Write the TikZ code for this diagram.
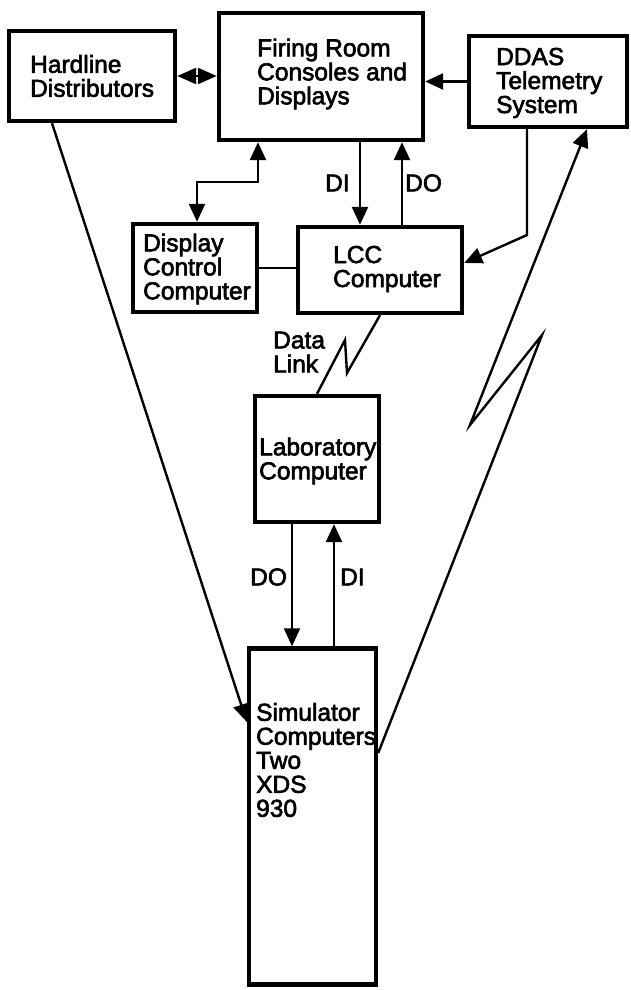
\documentclass[tikz,border=0pt]{standalone}
\usepackage{fontspec}
\setmainfont{Liberation Sans}
\newfontfamily\labelfont{Liberation Sans}[FakeBold=2.5]
\usetikzlibrary{arrows.meta,calc}
\begin{document}
\begin{tikzpicture}[x=1pt,y=-1pt,
  box/.style={draw, line width=4.4pt, inner sep=0pt, rectangle},
  lbl/.style={anchor=west, align=left, inner sep=0pt, font=\labelfont\fontsize{24.5}{24}\selectfont},
  conn/.style={line width=2.4pt},
  tip/.style={-{Triangle[length=18pt,width=16pt]}},
  tips/.style={{Triangle[length=18pt,width=16pt]}-{Triangle[length=18pt,width=16pt]}},
  dtips/.style={{Triangle[length=19pt,width=16pt]}-{Triangle[length=19pt,width=16pt]}}
]
\useasboundingbox (0,0) rectangle (631,990);
% boxes
\node[box, minimum width=166pt, minimum height=90pt] (hard) at (92,76) {};
\node[box, minimum width=204pt, minimum height=127pt] (fire) at (321,76.5) {};
\node[box, minimum width=158pt, minimum height=91pt] (ddas) at (548,81.5) {};
\node[box, minimum width=124pt, minimum height=88pt] (dcc) at (195,268) {};
\node[box, minimum width=164pt, minimum height=86pt] (lcc) at (380,270) {};
\node[box, minimum width=124pt, minimum height=126pt] (lab) at (317,459) {};
\node[box, minimum width=127pt, minimum height=336pt] (sim) at (312.5,816.5) {};
% texts
\node[lbl] (hardT) at (30,76) {Hardline\\Distributors};
\node[lbl] (fireT) at (257,74) {Firing Room\\Consoles and\\Displays};
\node[lbl] (ddasT) at (496,83) {DDAS\\Telemetry\\System};
\node[lbl] (dccT) at (143,269) {Display\\Control\\Computer};
\node[lbl] (lccT) at (333,269) {LCC\\Computer};
\node[lbl] (dlT) at (273,352) {Data\\Link};
\node[lbl] (labT) at (259,461) {Laboratory\\Computer};
\node[lbl] (simT) at (256,760) {Simulator\\Computers\\Two\\XDS\\930};
\node[lbl] (di1) at (325,183) {DI};
\node[lbl] (do1) at (405,183) {DO};
\node[lbl] (do2) at (250,577) {DO};
\node[lbl] (di2) at (340,577) {DI};
% helper coordinates
\coordinate (fd) at (258,182);
\coordinate (fd2) at (197,182);
\coordinate (dix) at (360,0);
\coordinate (dox) at (402,0);
\coordinate (dd) at (527,235);
\coordinate (ly) at (0,263);
\coordinate (dl1) at (347,373);
\coordinate (dl2) at (345,340);
\coordinate (ldo) at (292,0);
\coordinate (ldi) at (334,0);
\coordinate (hx) at (52,0);
\coordinate (sy) at (0,722);
\coordinate (sy2) at (0,753);
\coordinate (b1) at (542,335);
\coordinate (b2) at (470,425);
\coordinate (tx) at (587,0);
% connectors
\draw[conn,dtips] (hard.east) -- (fire.west |- hard.east);
\draw[conn,tip] (ddas.west) -- (fire.east |- ddas.west);
\draw[conn,tips] (fire.south -| fd) -- (fd) -- (fd2) -- (dcc.north -| fd2);
\draw[conn,tip] (fire.south -| dix) -- (lcc.north -| dix);
\draw[conn,tip] (lcc.north -| dox) -- (fire.south -| dox);
\draw[conn] (dcc.east) -- (lcc.west |- dcc.east);
\draw[conn,tip] (ddas.south -| dd) -- (dd) -- (lcc.east |- ly);
\draw[conn] (lcc.south) -- (dl1) -- (dl2) -- (lab.north);
\draw[conn,tip] (lab.south -| ldo) -- (sim.north -| ldo);
\draw[conn,tip] (sim.north -| ldi) -- (lab.south -| ldi);
\draw[conn,tip] (hard.south -| hx) -- (sim.west |- sy);
\draw[conn,tip] (sim.east |- sy2) -- (b1) -- (b2) -- (ddas.south -| tx);
\end{tikzpicture}
\end{document}
